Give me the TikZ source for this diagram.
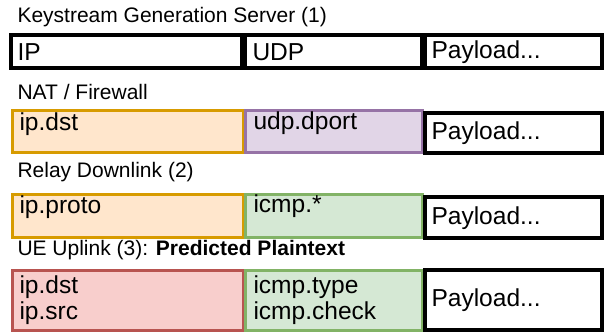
\documentclass[tikz,border=0pt]{standalone}
\usepackage{fontspec}
\setmainfont{Liberation Sans}

\tikzset{every picture/.style={line width=0.75pt}}
\tikzset{
  rowtitle/.style={anchor=west, inner sep=0pt, font=\fontsize{15.75}{18}\selectfont},
  fieldtxt/.style={anchor=west, inner sep=0pt, align=left, font=\fontsize{18.4}{19.5}\selectfont},
  plainbox/.style={draw={rgb, 255:red, 0; green, 0; blue, 0 }, fill={rgb, 255:red, 255; green, 255; blue, 255 }, line width=3},
  orangebox/.style={draw={rgb, 255:red, 215; green, 155; blue, 0 }, fill={rgb, 255:red, 255; green, 230; blue, 204 }, line width=2.25},
  purplebox/.style={draw={rgb, 255:red, 150; green, 115; blue, 166 }, fill={rgb, 255:red, 225; green, 213; blue, 231 }, line width=2.25},
  greenbox/.style={draw={rgb, 255:red, 130; green, 179; blue, 102 }, fill={rgb, 255:red, 213; green, 232; blue, 212 }, line width=2.25},
  redbox/.style={draw={rgb, 255:red, 184; green, 84; blue, 80 }, fill={rgb, 255:red, 248; green, 206; blue, 204 }, line width=2.25}
}

\begin{document}
\begin{tikzpicture}[x=0.75pt,y=0.75pt,yscale=-1,xscale=1]
\useasboundingbox (0,0) rectangle (605,332);

%Row 1: keystream server
\node[rowtitle] (ksTitle) at (17,17) {Keystream Generation Server (1)};
%Shape: Rectangle
\draw[plainbox] (11,35) rectangle (242,68);
\draw[plainbox] (245,35) rectangle (422,68);
\draw[plainbox] (425,35) rectangle (602,68);
\node[fieldtxt] (ksIp) at (17,52) {IP};
\node[fieldtxt] (ksUdp) at (252,52) {UDP};
\node[fieldtxt] (ksPay) at (431,52) {Payload...};

%Row 2: NAT
\node[rowtitle] (natTitle) at (17,92) {NAT / Firewall};
%Shape: Rectangle
\draw[orangebox] (12,110) rectangle (243,152);
\draw[purplebox] (245,110) rectangle (422,152);
\draw[plainbox] (425,113) rectangle (602,153);
\node[fieldtxt] (natIp) at (19,124) {ip.dst};
\node[fieldtxt] (natUdp) at (253,123) {udp.dport};
\node[fieldtxt] (natPay) at (431,133) {Payload...};

%Row 3: relay downlink
\node[rowtitle] (dlTitle) at (17,172) {Relay Downlink (2)};
%Shape: Rectangle
\draw[orangebox] (12,194) rectangle (243,237);
\draw[greenbox] (245,194) rectangle (422,237);
\draw[plainbox] (425,197) rectangle (602,238);
\node[fieldtxt] (dlIp) at (19,207) {ip.proto};
\node[fieldtxt] (dlIcmp) at (253,206) {icmp.*};
\node[fieldtxt] (dlPay) at (431,218) {Payload...};

%Row 4: UE uplink
\node[rowtitle] (ulTitle) at (17,250) {UE Uplink (3): \textbf{Predicted Plaintext}};
%Shape: Rectangle
\draw[redbox] (12,270) rectangle (243,330);
\draw[greenbox] (245,270) rectangle (422,330);
\draw[plainbox] (425,270) rectangle (602,330);
\node[fieldtxt] (ulIp) at (19,300) {ip.dst\\ip.src};
\node[fieldtxt] (ulIcmp) at (253,300) {icmp.type\\icmp.check};
\node[fieldtxt] (ulPay) at (431,300) {Payload...};

\end{tikzpicture}
\end{document}
